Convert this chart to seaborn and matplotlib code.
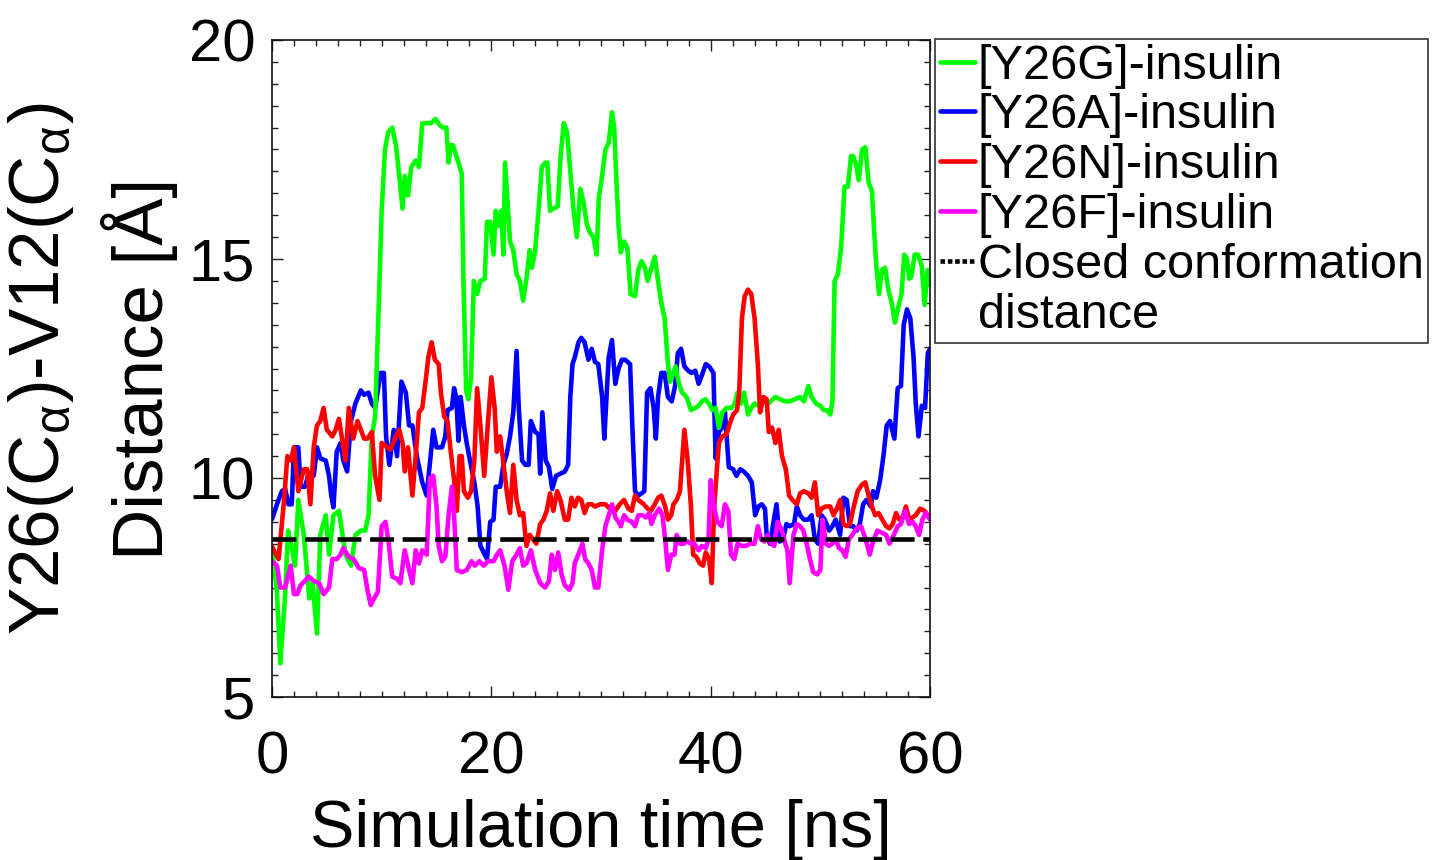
import matplotlib
matplotlib.use("Agg")
import matplotlib.pyplot as plt
from matplotlib.lines import Line2D
from matplotlib.ticker import MultipleLocator
import seaborn as sns
import pandas as pd

# ---------------- data ----------------
t_g = [0, 0.45, 0.76, 1.2, 1.46, 1.8, 2.1, 2.4, 2.9, 3.4, 3.7, 4.1, 4.4, 4.9, 5.2, 5.6, 6.1, 6.7, 7.2, 7.6,
       8.1, 8.5, 8.8, 9.1, 9.4, 9.7, 10.0, 10.3, 10.6, 10.96, 11.3, 11.6, 11.9, 12.1, 12.4, 12.7, 13.1, 13.4,
       13.7, 14.0, 14.5, 14.9, 15.3, 15.6, 15.9, 16.1, 16.3, 16.5, 17.0, 17.3, 17.45, 17.7, 17.9, 18.15, 18.4,
       18.7, 19.0, 19.4, 19.6, 19.9, 20.2, 20.4, 20.6, 20.9, 21.1, 21.25, 21.7, 22.0, 22.3, 22.6, 22.9, 23.2,
       23.5, 23.7, 24.0, 24.3, 24.6, 24.9, 25.1, 25.35, 25.65, 26.05, 26.3, 26.6, 26.9, 27.2, 27.5, 27.8, 28.1,
       28.4, 28.7, 29.0, 29.3, 29.6, 29.8, 30.1, 30.4, 30.7, 31.0, 31.2, 31.4, 31.6, 31.8, 32.1, 32.4, 32.7,
       33.1, 33.4, 33.7, 34.0, 34.25, 34.55, 34.9, 35.2, 35.5, 35.8, 36.1, 36.3, 36.6, 36.8, 37.1, 37.4, 37.8,
       38.2, 38.6, 38.9, 39.2, 39.5, 39.85, 40.15, 40.45, 40.75, 41.05, 41.45, 41.9, 42.2, 42.45, 42.75, 43.05,
       43.4, 43.7, 44.0, 44.35, 44.8, 45.25, 45.9, 46.3, 46.8, 47.2, 47.7, 48.15, 48.5, 48.9, 49.2, 49.6, 50.0,
       50.3, 50.6, 50.9, 51.1, 51.3, 51.6, 51.9, 52.2, 52.5, 52.8, 53.0, 53.3, 53.5, 53.8, 54.1, 54.4, 54.7,
       54.9, 55.1, 55.35, 55.6, 55.9, 56.2, 56.5, 56.8, 57.1, 57.4, 57.65, 57.9, 58.1, 58.3, 58.6, 58.9, 59.25,
       59.5, 59.8, 60.0]
d_g = [8.43, 7.4, 5.77, 7.35, 8.8, 8.4, 8.0, 9.5, 8.7, 7.25, 7.6, 6.45, 8.7, 9.15, 8.25, 9.15, 9.25, 8.25, 8.0, 8.7,
       8.8, 8.8, 9.15, 10.95, 11.4, 13.7, 16.1, 17.5, 17.9, 18.0, 17.6, 16.9, 16.15, 16.9, 16.45, 17.1, 17.25, 17.1,
       18.1, 18.1, 18.1, 18.2, 18.05, 18.0, 18.0, 17.2, 17.6, 17.6, 17.2, 16.95, 14.55, 12.0, 11.8, 12.3, 14.5,
       14.2, 14.5, 14.55, 15.85, 15.85, 15.1, 16.1, 15.75, 16.1, 15.1, 17.2, 15.4, 15.2, 14.65, 14.5, 14.05, 14.55,
       15.2, 14.8, 15.2, 16.1, 17.1, 17.2, 17.2, 16.1, 16.15, 16.2, 17.3, 18.1, 17.9, 17.0, 16.1, 15.5, 16.6,
       16.3, 15.8, 15.6, 15.5, 15.1, 16.4, 16.9, 17.5, 17.65, 18.35, 18.0, 16.8, 15.75, 15.15, 15.4, 15.25, 14.2,
       14.15, 14.75, 14.95, 14.8, 14.5, 14.75, 15.05, 14.5, 14.0, 13.65, 12.6, 12.2, 12.4, 12.55, 12.15, 11.95, 11.85,
       11.55, 11.6, 11.65, 11.75, 11.8, 11.7, 11.55, 11.6, 11.15, 11.5, 11.6, 11.6, 11.7, 11.95, 11.7, 11.95,
       11.45, 11.6, 11.7, 11.65, 11.75, 11.7, 11.85, 11.8, 11.75, 11.75, 11.8, 11.85, 11.75, 12.1, 11.85, 11.7, 11.65,
       11.55, 11.55, 11.45, 11.75, 14.5, 14.65, 15.3, 16.65, 16.65, 17.35, 17.35, 17.1, 16.8, 17.5, 17.55, 16.75, 16.55,
       15.65, 14.85, 14.2, 14.75, 14.8, 14.3, 14.0, 13.55, 13.9, 14.2, 15.1, 15.0, 14.55, 14.6, 15.1, 15.1, 14.85,
       13.95, 14.75, 14.4]

t_a = [0, 0.45, 0.9, 1.2, 1.5, 1.8, 2.0, 2.4, 2.6, 3.0, 3.35, 3.8, 4.1, 4.4, 4.9, 5.2, 5.4, 5.6, 5.9, 6.25, 6.5,
       6.85, 7.2, 7.6, 8.1, 8.4, 8.8, 9.1, 9.4, 9.9, 10.2, 10.4, 10.7, 11.1, 11.4, 11.8, 12.2, 12.5, 12.8, 13.2,
       13.7, 14.1, 14.7, 15.0, 15.5, 15.8, 16.0, 16.4, 16.6, 16.8, 17.0, 17.2, 17.5, 17.75, 18.05, 18.45, 18.75,
       19.0, 19.3, 19.6, 19.9, 20.2, 20.4, 20.8, 21.1, 21.4, 21.7, 22.0, 22.3, 22.5, 22.8, 23.1, 23.4, 23.6, 24.0,
       24.3, 24.45, 24.65, 24.95, 25.25, 25.55, 25.9, 26.3, 26.7, 27.0, 27.2, 27.4, 27.6, 27.95, 28.2, 28.5,
       28.85, 29.15, 29.45, 29.75, 30.1, 30.3, 30.5, 30.7, 31.0, 31.3, 31.6, 31.9, 32.2, 32.65, 32.85, 33.1, 33.4,
       33.7, 33.95, 34.2, 34.5, 34.8, 35.0, 35.2, 35.5, 35.8, 36.1, 36.45, 36.75, 37.0, 37.3, 37.6, 37.95, 38.25,
       38.6, 38.9, 39.2, 39.55, 39.85, 40.25, 40.45, 40.75, 41.05, 41.3, 41.65, 42.05, 42.35, 42.7, 43.0, 43.4,
       43.75, 44.05, 44.35, 44.65, 44.95, 45.1, 45.4, 45.7, 46.0, 46.3, 46.6, 46.9, 47.2, 47.6, 47.85, 48.15,
       48.5, 48.9, 49.2, 49.5, 49.8, 50.1, 50.4, 50.8, 51.1, 51.4, 51.8, 52.1, 52.4, 52.7, 53.0, 53.3, 53.6, 53.9,
       54.2, 54.6, 54.8, 55.1, 55.45, 55.75, 56.05, 56.35, 56.75, 57.05, 57.35, 57.6, 57.9, 58.2, 58.5, 58.7,
       58.95, 59.25, 59.55, 59.8, 60.0]
d_a = [9.06, 9.4, 9.7, 9.75, 9.4, 9.4, 10.7, 10.7, 9.8, 9.8, 10.1, 10.05, 10.7, 10.45, 10.4, 10.05, 9.6, 9.33, 10.6,
       10.8, 10.4, 10.15, 11.3, 11.7, 12.0, 11.9, 11.95, 11.7, 11.6, 12.4, 12.4, 10.95, 10.3, 11.1, 10.5, 12.2, 11.95,
       11.2, 11.2, 10.5, 9.9, 9.6, 11.1, 10.7, 10.7, 10.95, 11.55, 11.6, 12.05, 11.85, 10.85, 11.85, 11.2, 10.8,
       10.4, 9.9, 9.35, 8.45, 8.3, 8.15, 9.0, 9.05, 9.8, 9.8, 10.3, 10.55, 10.95, 11.5, 12.9, 11.6, 10.4, 10.3,
       10.3, 11.3, 11.05, 11.0, 10.1, 11.5, 10.4, 10.25, 9.75, 10.05, 10.1, 10.15, 10.3, 11.85, 12.6, 12.75, 13.1,
       13.2, 13.1, 12.7, 12.95, 12.65, 12.6, 11.85, 10.9, 11.85, 12.75, 13.15, 12.15, 12.5, 12.7, 12.7, 12.6, 11.2,
       9.7, 9.6, 9.65, 9.7, 11.95, 12.05, 11.6, 10.9, 11.85, 12.4, 12.4, 11.85, 11.75, 12.1, 12.85, 12.95, 12.55,
       12.45, 12.4, 12.45, 12.15, 12.35, 12.6, 12.55, 12.4, 10.45, 11.05, 11.15, 11.5, 10.25, 10.2, 10.05, 10.2,
       10.15, 10.05, 9.9, 9.15, 9.35, 9.4, 9.3, 8.7, 8.5, 8.95, 9.4, 8.55, 8.6, 8.95, 8.9, 8.95, 9.35, 9.15, 9.05,
       9.05, 9.15, 8.6, 8.5, 9.15, 9.05, 8.8, 8.9, 9.05, 8.7, 9.55, 9.5, 8.9, 8.9, 8.8, 8.95, 9.4, 9.5, 9.35, 9.7,
       9.55, 9.95, 10.5, 11.2, 11.3, 10.9, 12.05, 12.1, 13.5, 13.85, 13.65, 12.75, 11.7, 10.95, 11.65, 11.6,
       12.85, 12.95]

t_n = [0, 0.6, 1.1, 1.4, 1.7, 2.0, 2.4, 2.9, 3.2, 3.5, 3.8, 4.1, 4.4, 4.7, 5.0, 5.5, 5.8, 6.1, 6.45, 6.7, 7.0,
       7.4, 7.8, 8.1, 8.4, 8.7, 9.1, 9.4, 9.8, 10.0, 10.5, 10.8, 11.3, 11.6, 11.9, 12.1, 12.4, 12.8, 13.1, 13.4,
       13.7, 14.0, 14.25, 14.55, 14.85, 15.2, 15.4, 15.7, 16.0, 16.3, 16.6, 16.85, 17.1, 17.3, 17.5, 17.85, 18.15,
       18.45, 18.7, 19.0, 19.35, 19.7, 20.0, 20.3, 20.5, 20.8, 21.0, 21.4, 21.7, 22.0, 22.3, 22.6, 22.9, 23.2,
       23.5, 23.8, 24.1, 24.45, 24.75, 25.05, 25.35, 25.65, 26.0, 26.3, 26.7, 27.0, 27.3, 27.6, 27.9, 28.2, 28.5,
       28.8, 29.15, 29.45, 29.9, 30.4, 30.8, 31.3, 31.7, 32.1, 32.5, 32.8, 33.1, 33.4, 33.9, 34.25, 34.55, 34.9,
       35.2, 35.5, 35.85, 36.1, 36.4, 36.6, 36.9, 37.2, 37.4, 37.6, 37.9, 38.2, 38.4, 38.7, 39.0, 39.3, 39.55,
       39.85, 40.1, 40.3, 40.55, 40.75, 41.05, 41.45, 41.75, 42.05, 42.4, 42.6, 42.85, 43.1, 43.4, 43.7, 44.0,
       44.3, 44.5, 44.8, 45.1, 45.3, 45.6, 45.9, 46.2, 46.5, 46.85, 47.15, 47.45, 47.85, 48.15, 48.5, 48.9, 49.2,
       49.5, 49.8, 50.1, 50.5, 50.9, 51.2, 51.5, 51.8, 52.1, 52.4, 52.7, 53.0, 53.4, 53.8, 54.1, 54.4, 54.7, 55.0,
       55.3, 55.65, 56.0, 56.3, 56.6, 56.9, 57.2, 57.5, 57.8, 58.1, 58.4, 58.7, 59.1, 59.5, 59.8, 60.0]
d_n = [8.43, 8.15, 9.5, 10.5, 10.4, 10.7, 9.7, 10.2, 10.2, 9.4, 10.7, 11.2, 11.3, 11.6, 11.1, 10.95, 11.1, 11.35,
       10.8, 10.4, 11.6, 10.9, 11.3, 11.1, 10.9, 10.9, 11.05, 10.05, 9.5, 10.8, 10.7, 10.65, 10.95, 11.1, 10.8,
       10.15, 10.7, 9.6, 10.5, 11.5, 11.6, 12.2, 12.75, 13.1, 12.7, 12.6, 11.95, 11.4, 11.3, 10.6, 9.96, 9.25,
       10.5, 10.5, 9.7, 9.55, 9.7, 10.4, 12.05, 11.2, 10.05, 11.3, 12.3, 11.6, 10.6, 10.95, 10.55, 9.7, 9.2, 10.3,
       9.5, 9.15, 9.2, 8.45, 8.7, 8.6, 8.5, 8.95, 9.05, 9.25, 9.65, 9.25, 9.7, 9.5, 9.05, 9.05, 9.55, 9.35, 9.55,
       9.5, 9.2, 9.4, 9.4, 9.35, 9.4, 9.4, 9.3, 9.25, 9.4, 9.5, 9.3, 9.25, 9.6, 9.5, 9.4, 9.3, 9.25, 9.4, 9.55,
       9.6, 9.35, 9.05, 9.15, 9.4, 9.5, 9.7, 10.4, 11.1, 10.4, 9.35, 8.25, 8.2, 8.05, 8.0, 8.3, 8.15, 7.6, 9.25,
       10.15, 10.8, 10.95, 11.0, 11.25, 11.45, 11.55, 11.95, 13.65, 14.15, 14.3, 14.2, 13.65, 12.6, 11.5, 11.85,
       11.8, 11.05, 11.15, 10.8, 11.1, 10.5, 10.2, 9.6, 9.5, 9.4, 9.65, 9.7, 9.65, 9.55, 9.9, 9.15, 9.3, 9.35,
       9.35, 9.15, 9.3, 9.5, 8.95, 8.9, 8.95, 9.3, 9.7, 9.85, 9.9, 9.6, 9.35, 9.15, 9.2, 9.05, 8.9, 8.85, 8.95,
       9.2, 9.05, 9.1, 9.35, 9.05, 9.1, 9.15, 9.3, 9.25, 9.15, 9.1]

t_f = [0, 0.45, 0.76, 1.2, 1.7, 2.0, 2.3, 2.6, 3.0, 3.35, 3.8, 4.3, 4.7, 5.2, 5.5, 5.9, 6.25, 6.5, 7.0, 7.45, 7.9,
       8.4, 8.7, 9.0, 9.3, 9.65, 10.0, 10.35, 10.65, 10.96, 11.4, 11.7, 12.1, 12.5, 12.8, 13.1, 13.4, 13.7, 14.1,
       14.4, 14.7, 15.0, 15.2, 15.5, 15.8, 16.1, 16.4, 16.6, 16.85, 17.3, 17.75, 18.2, 18.5, 18.9, 19.3, 19.7,
       20.2, 20.5, 20.8, 21.2, 21.55, 21.9, 22.3, 22.6, 22.9, 23.2, 23.6, 24.0, 24.45, 24.9, 25.25, 25.5, 25.8,
       26.1, 26.4, 26.7, 27.1, 27.4, 27.6, 28.0, 28.3, 28.55, 28.85, 29.15, 29.45, 29.75, 30.1, 30.4, 30.7, 31.0,
       31.3, 31.6, 31.8, 32.1, 32.4, 32.8, 33.1, 33.4, 33.8, 34.1, 34.4, 34.6, 34.9, 35.3, 35.6, 35.85, 36.1,
       36.4, 36.7, 36.9, 37.2, 37.5, 37.9, 38.2, 38.5, 38.9, 39.2, 39.55, 39.8, 40.0, 40.3, 40.6, 41.0, 41.3,
       41.6, 41.85, 42.15, 42.45, 42.85, 43.2, 43.6, 44.0, 44.3, 44.6, 44.9, 45.2, 45.5, 45.8, 46.1, 46.5, 46.8,
       47.0, 47.2, 47.55, 47.85, 48.15, 48.45, 48.75, 49.05, 49.35, 49.7, 50.0, 50.2, 50.5, 50.8, 51.1, 51.4,
       51.7, 52.0, 52.3, 52.6, 52.9, 53.3, 53.7, 54.0, 54.3, 54.5, 54.8, 55.2, 55.6, 56.0, 56.3, 56.7, 57.05,
       57.35, 57.7, 58.1, 58.4, 58.7, 59.0, 59.3, 59.6, 60.0]
d_f = [8.1, 8.0, 7.5, 7.5, 8.0, 7.35, 7.35, 7.55, 7.65, 7.75, 7.65, 7.6, 7.35, 7.5, 8.15, 8.15, 8.25, 8.4, 8.2, 8.15,
       7.95, 7.9, 7.45, 7.1, 7.25, 7.4, 8.9, 9.0, 8.5, 7.75, 7.7, 7.6, 8.35, 7.9, 7.6, 8.35, 8.05, 8.35, 8.25,
       10.0, 10.05, 9.35, 8.45, 8.1, 8.2, 9.15, 9.8, 9.15, 7.9, 7.85, 7.9, 8.1, 8.0, 8.1, 8.0, 8.1, 8.1, 8.25, 8.35,
       8.0, 7.45, 8.1, 8.25, 8.4, 8.0, 8.05, 8.35, 7.9, 7.6, 7.5, 7.65, 8.25, 7.9, 8.3, 7.8, 7.55, 7.45, 7.6, 8.05,
       8.3, 8.5, 8.15, 8.05, 7.9, 7.5, 7.5, 8.35, 8.9, 9.15, 9.4, 9.1, 9.0, 8.9, 9.15, 9.05, 9.0, 8.9, 9.15, 9.15,
       9.1, 9.2, 8.95, 9.15, 9.3, 9.15, 8.6, 7.9, 8.25, 8.25, 8.7, 8.5, 8.5, 8.55, 8.5, 8.5, 8.35, 8.45, 8.4, 8.6,
       9.95, 9.35, 9.0, 8.9, 9.4, 9.25, 8.25, 8.15, 8.5, 8.45, 8.45, 8.5, 8.5, 8.9, 8.6, 8.55, 8.7, 8.5, 8.45, 9.0,
       8.8, 8.5, 8.35, 7.6, 8.7, 8.95, 8.9, 8.8, 8.5, 8.15, 7.85, 7.8, 7.9, 9.05, 8.5, 8.45, 8.5, 8.6, 8.4, 8.35,
       8.2, 8.6, 8.7, 8.85, 8.9, 8.7, 8.45, 8.25, 8.55, 8.8, 8.75, 8.7, 8.5, 8.7, 8.9, 8.95, 9.25, 8.95, 9.0, 8.9,
       8.7, 9.05, 9.2, 9.05]

closed_distance = 8.6

labels = ["[Y26G]-insulin", "[Y26A]-insulin", "[Y26N]-insulin", "[Y26F]-insulin",
          "Closed conformation", "distance"]
colors = ["#00ff00", "#0000ff", "#ff0000", "#ff00ff"]

x_ticks = [0, 20, 40, 60]
y_ticks = [5, 10, 15, 20]

# ---------------- style ----------------
sns.set_style("ticks")
plt.rcParams["font.family"] = ["Liberation Sans", "DejaVu Sans"]
plt.rcParams["mathtext.fontset"] = "custom"
plt.rcParams["mathtext.rm"] = "Liberation Sans"
plt.rcParams["mathtext.it"] = "Liberation Sans:italic"
for key in ["text.color", "axes.labelcolor", "xtick.color", "ytick.color", "axes.edgecolor"]:
    plt.rcParams[key] = "black"

fig = plt.figure(figsize=(14.5, 8.6), dpi=100)
ax = fig.add_axes([0.1876, 0.1895, 0.4538, 0.764])

series = [(t_a, d_a, 1), (t_g, d_g, 0), (t_n, d_n, 2), (t_f, d_f, 3)]
for tt, dd, idx in series:
    df = pd.DataFrame({"t": tt, "d": dd})
    sns.lineplot(data=df, x="t", y="d", ax=ax, color=colors[idx], linewidth=3.3,
                 sort=False, estimator=None, legend=False)

ax.axhline(closed_distance, color="black", linewidth=3.3, linestyle=(0, (5.2, 1.9)), zorder=5)

ax.set_xlim(0, 60)
ax.set_ylim(5, 20)
ax.set_xticks(x_ticks)
ax.set_yticks(y_ticks)
ax.xaxis.set_minor_locator(MultipleLocator(2))
ax.yaxis.set_minor_locator(MultipleLocator(0.5))
ax.tick_params(which="both", direction="in", top=True, right=True, width=1.0, color="#222222")
ax.tick_params(which="major", length=8, labelsize=43)
ax.tick_params(which="minor", length=4.5)
ax.tick_params(axis="x", pad=24)
ax.tick_params(axis="y", pad=12)
for s in ax.spines.values():
    s.set_linewidth(1.2)
    s.set_color("#111111")

ax.set_xlabel("Simulation time [ns]", fontsize=48, labelpad=10)
ax.set_ylabel("Y26(C$_{\\mathrm{α}}$)-V12(C$_{\\mathrm{α}}$)\nDistance [Å]", fontsize=51,
              labelpad=8, linespacing=1.4)

handles = [Line2D([], [], color=c, linewidth=3.3) for c in colors]
handles.append(Line2D([], [], color="black", linewidth=3.3, linestyle=(0, (1.0, 0.6))))
handles.append(Line2D([], [], color="none", linewidth=0))
leg = fig.legend(handles, labels, loc="upper left", bbox_to_anchor=(0.645, 0.955),
                 fontsize=35, frameon=True, fancybox=False, handlelength=0.72,
                 handletextpad=0.05, borderpad=0.1, labelspacing=0.1, borderaxespad=0)
leg.get_frame().set_edgecolor("black")
leg.get_frame().set_linewidth(1.2)

fig.savefig("out.png", dpi=100)
